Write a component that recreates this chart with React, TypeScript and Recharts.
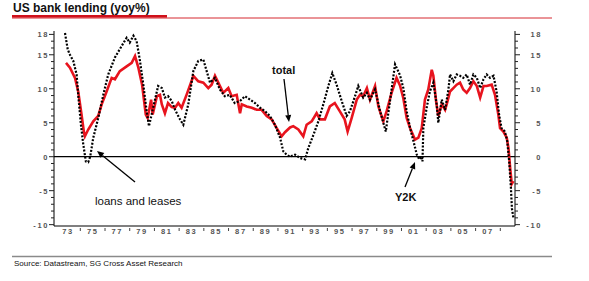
import React from "react";
import { LineChart, Line, XAxis, YAxis, ReferenceLine } from "recharts";

// readings (year, yoy %)
const totalYears = [
  1972.84, 1973.16, 1973.57, 1973.83, 1974.1, 1974.3, 1974.37, 1974.64, 1975.05, 1975.45,
  1975.73, 1976.13, 1976.54, 1976.8, 1977.2, 1977.75, 1978.16, 1978.43, 1978.7, 1979.0,
  1979.3, 1979.45, 1979.73, 1979.86, 1980.2, 1980.45, 1980.6, 1980.85, 1981.1, 1981.4,
  1981.67, 1981.93, 1982.2, 1982.6, 1983.0, 1983.15, 1983.55, 1983.96, 1984.36, 1984.63,
  1984.9, 1985.17, 1985.57, 1985.98, 1986.25, 1986.66, 1986.93, 1987.07, 1987.47, 1987.88,
  1988.28, 1988.68, 1989.09, 1989.49, 1989.9, 1990.3, 1990.57, 1990.98, 1991.24, 1991.65,
  1992.05, 1992.32, 1992.73, 1993.13, 1993.4, 1993.8, 1994.2, 1994.6, 1995.0, 1995.4,
  1995.64, 1995.97, 1996.38, 1996.64, 1996.9, 1997.2, 1997.45, 1997.86, 1998.13, 1998.53,
  1998.8, 1999.2, 1999.6, 1999.88, 2000.15, 2000.42, 2000.7, 2001.1, 2001.37, 2001.64,
  2001.9, 2002.17, 2002.45, 2002.58, 2002.8, 2002.98, 2003.26, 2003.53, 2003.66, 2003.93,
  2004.2, 2004.47, 2004.74, 2005.0, 2005.28, 2005.55, 2005.82, 2006.1, 2006.37, 2006.64,
  2006.9, 2007.3, 2007.57, 2007.84, 2007.98, 2008.25, 2008.52, 2008.66, 2008.8, 2008.93,
  2009.06,
];
const totalValues = [
  13.8, 13.1, 11.6, 9.6, 6.2, 3.5, 3.0, 4.0, 5.2, 6.0,
  7.7, 9.6, 11.6, 11.4, 12.6, 13.3, 13.8, 14.8, 13.1, 10.6,
  6.2, 5.7, 8.4, 6.2, 8.9, 9.1, 7.7, 6.4, 7.9, 7.3,
  7.2, 7.9, 7.2, 9.1, 11.1, 11.9, 11.1, 10.9, 10.1, 10.6,
  11.9, 10.9, 9.4, 10.1, 8.9, 9.1, 6.4, 7.7, 7.4, 7.2,
  6.9, 6.9, 6.0, 5.5, 4.2, 3.0, 3.6, 4.3, 4.5, 4.0,
  3.0, 4.7, 5.2, 6.4, 5.5, 5.5, 7.4, 7.9, 6.7, 5.5,
  3.7, 5.7, 8.4, 9.1, 8.9, 10.1, 8.4, 10.4, 7.4, 5.2,
  6.7, 9.4, 11.6, 10.5, 8.6, 5.7, 4.2, 2.5, 2.8, 4.2,
  8.4, 9.9, 12.8, 11.9, 8.2, 6.0, 7.7, 6.9, 7.7, 9.6,
  10.1, 10.6, 10.9, 9.9, 9.4, 10.1, 11.1, 10.4, 8.7, 10.4,
  10.4, 10.6, 9.1, 6.2, 4.2, 3.7, 2.8, 1.3, -1.7, -4.0,
  -3.6,
];

const loansYears = [
  1972.76, 1972.98, 1973.16, 1973.43, 1973.7, 1973.83, 1974.05, 1974.24, 1974.45, 1974.64,
  1974.8, 1975.05, 1975.45, 1975.86, 1976.26, 1976.8, 1977.35, 1977.75, 1978.0, 1978.3,
  1978.56, 1978.83, 1979.1, 1979.37, 1979.56, 1979.86, 1980.3, 1980.6, 1980.85, 1981.1,
  1981.4, 1981.67, 1982.07, 1982.34, 1982.74, 1983.15, 1983.55, 1983.96, 1984.23, 1984.5,
  1984.9, 1985.3, 1985.7, 1986.1, 1986.5, 1986.93, 1987.33, 1987.74, 1988.14, 1988.55,
  1988.95, 1989.35, 1989.76, 1990.17, 1990.43, 1990.7, 1990.98, 1991.38, 1991.8, 1992.2,
  1992.46, 1992.87, 1993.27, 1993.67, 1994.08, 1994.4, 1994.75, 1995.16, 1995.56, 1995.83,
  1996.24, 1996.5, 1996.9, 1997.2, 1997.45, 1997.86, 1998.27, 1998.73, 1999.07, 1999.48,
  1999.88, 2000.15, 2000.42, 2000.7, 2000.97, 2001.24, 2001.45, 2001.64, 2001.7, 2001.77,
  2002.04, 2002.3, 2002.58, 2002.85, 2002.98, 2003.26, 2003.53, 2003.8, 2003.93, 2004.2,
  2004.47, 2004.74, 2005.0, 2005.28, 2005.55, 2005.82, 2006.1, 2006.37, 2006.64, 2006.9,
  2007.17, 2007.45, 2007.7, 2007.9, 2008.1, 2008.37, 2008.56, 2008.72, 2008.86, 2008.94,
  2009.06,
];
const loansValues = [
  18.2, 15.8, 15.0, 14.1, 12.1, 9.1, 4.7, 1.8, -0.7, -0.8,
  0.0, 2.8, 5.7, 9.1, 12.1, 14.6, 16.3, 17.5, 16.8, 17.8,
  17.0, 14.1, 10.6, 6.7, 4.5, 6.9, 10.4, 10.1, 8.7, 8.9,
  8.2, 6.9, 5.5, 4.7, 7.7, 12.6, 14.1, 14.3, 12.6, 10.9,
  11.6, 9.9, 8.9, 9.1, 7.9, 8.2, 8.9, 8.4, 7.9, 7.2,
  6.7, 6.0, 4.7, 2.8, 0.8, 0.3, 0.0, 0.3, -0.2, -0.4,
  1.3, 3.2, 5.2, 7.7, 10.4, 12.3, 10.6, 8.2, 6.0, 6.7,
  8.9, 10.4, 8.7, 9.4, 8.4, 9.9, 6.7, 3.7, 8.2, 13.6,
  12.0, 10.1, 6.7, 4.2, 2.3, 0.3, -0.4, 0.0, -0.7, 4.2,
  7.2, 9.6, 10.9, 7.7, 5.0, 8.4, 6.9, 9.9, 12.1, 11.1,
  12.1, 11.9, 11.6, 12.1, 10.6, 12.1, 11.6, 10.1, 11.4, 12.1,
  11.6, 11.9, 9.6, 6.2, 4.2, 3.7, 2.3, -0.7, -4.6, -7.6,
  -9.0,
];

const yearTicks = [
  1972, 1973, 1974, 1975, 1976, 1977, 1978, 1979, 1980, 1981, 1982, 1983, 1984,
  1985, 1986, 1987, 1988, 1989, 1990, 1991, 1992, 1993, 1994, 1995, 1996, 1997,
  1998, 1999, 2000, 2001, 2002, 2003, 2004, 2005, 2006, 2007, 2008,
];
const valueTicks = [
  -10, -9, -8, -7, -6, -5, -4, -3, -2, -1, 0, 1, 2, 3, 4, 5, 6, 7, 8, 9, 10,
  11, 12, 13, 14, 15, 16, 17, 18,
];
const labelledValues = [-10, -5, 0, 5, 10, 15, 18];

const totalData = totalYears.map((year, i) => ({ year, total: totalValues[i] }));
const loansData = loansYears.map((year, i) => ({ year, loans: loansValues[i] }));

const FONT = "'Liberation Sans', Arial, sans-serif";
const RED = "#e8141e";

function YearTick(props: any) {
  const { x, y, payload } = props;
  const yr: number = payload.value;
  if (yr === 1972) return <g />;
  if (yr % 2 === 1) {
    return (
      <text x={x} y={y + 7.5} textAnchor="middle" fontSize={7.5} fontFamily={FONT}
        fontWeight={700} letterSpacing={1.6} fill="#555">
        {String(yr).slice(2)}
      </text>
    );
  }
  return <line x1={x} x2={x} y1={y + 2} y2={y + 5} stroke="#444" strokeWidth={1} />;
}

function ValueTick(props: any) {
  const { x, y, payload, side } = props;
  const v: number = payload.value;
  const major = labelledValues.includes(v);
  const dir = side === "left" ? -1 : 1;
  return (
    <g>
      <line x1={x} x2={x + dir * (major ? 5 : 3)} y1={y} y2={y} stroke="#222" strokeWidth={1} />
      {major && (
        <text x={side === "left" ? x - 5 : x + 27} y={y + 3} textAnchor="end" fontSize={7.5}
          fontFamily={FONT} fontWeight={700} letterSpacing={1.6} fill="#555">
          {v}
        </text>
      )}
    </g>
  );
}

function Arrow({ x1, y1, x2, y2 }: { x1: number; y1: number; x2: number; y2: number }) {
  const a = Math.atan2(y2 - y1, x2 - x1);
  const len = 7;
  const w = 3;
  const bx = x2 - len * Math.cos(a);
  const by = y2 - len * Math.sin(a);
  const px = -Math.sin(a) * w;
  const py = Math.cos(a) * w;
  return (
    <g>
      <line x1={x1} y1={y1} x2={bx} y2={by} stroke="#000" strokeWidth={1.3} />
      <polygon points={`${x2},${y2} ${bx + px},${by + py} ${bx - px},${by - py}`} fill="#000" />
    </g>
  );
}

export default function App() {
  return (
    <div style={{ position: "relative", width: 589, height: 281, background: "#fff" }}>
      <style>{"body{margin:0}"}</style>
      <LineChart width={589} height={281} margin={{ top: 31, right: 0, bottom: 0, left: 0 }}>
        <XAxis
          dataKey="year"
          type="number"
          domain={[1971.87, 2009.19]}
          ticks={yearTicks}
          interval={0}
          tick={<YearTick />}
          tickLine={false}
          tickSize={0}
          tickMargin={0}
          height={55}
          stroke="#000"
          allowDataOverflow
          allowDuplicatedCategory={false}
        />
        <YAxis
          yAxisId="left"
          orientation="left"
          width={54}
          domain={[-10.2, 18.5]}
          ticks={valueTicks}
          interval={0}
          tick={<ValueTick side="left" />}
          tickLine={false}
          tickSize={0}
          tickMargin={0}
          stroke="#000"
          allowDataOverflow
        />
        <YAxis
          yAxisId="right"
          orientation="right"
          width={74}
          domain={[-10.2, 18.5]}
          ticks={valueTicks}
          interval={0}
          tick={<ValueTick side="right" />}
          tickLine={false}
          tickSize={0}
          tickMargin={0}
          stroke="#000"
          allowDataOverflow
        />
        <ReferenceLine yAxisId="left" y={0} stroke="#000" strokeWidth={1.2} />
        <Line
          yAxisId="left"
          data={totalData}
          dataKey="total"
          stroke={RED}
          strokeWidth={2.6}
          dot={false}
          isAnimationActive={false}
        />
        <Line
          yAxisId="left"
          data={loansData}
          dataKey="loans"
          stroke="#000"
          strokeWidth={2.2}
          strokeDasharray="2 1.6"
          dot={false}
          isAnimationActive={false}
        />
      </LineChart>
      <svg width={589} height={281}
        style={{ position: "absolute", left: 0, top: 0, pointerEvents: "none" }}>
        <text x={13} y={12} fontSize={12} fontWeight={700} fontFamily={FONT} fill="#111">
          US bank lending (yoy%)
        </text>
        <rect x={12} y={15} width={155} height={2.6} fill="#d0101a" />
        <line x1={12} x2={552} y1={18} y2={18} stroke="#d0101a" strokeWidth={0.9} />
        <line x1={12} x2={552} y1={256.5} y2={256.5} stroke="#8a8a8a" strokeWidth={1.4} />
        <text x={14} y={266} fontSize={8} fontFamily={FONT} fill="#111">
          Source: Datastream, SG Cross Asset Research
        </text>
        <text x={272} y={74} fontSize={11} fontWeight={700} fontFamily={FONT} fill="#111">
          total
        </text>
        <Arrow x1={284} y1={79} x2={289} y2={122} />
        <text x={95} y={205} fontSize={11.5} fontFamily={FONT} fill="#111">
          loans and leases
        </text>
        <Arrow x1={135} y1={182} x2={97} y2={151} />
        <text x={395} y={201} fontSize={11} fontWeight={700} fontFamily={FONT} fill="#111">
          Y2K
        </text>
        <Arrow x1={405} y1={187} x2={415} y2={162} />
      </svg>
    </div>
  );
}
